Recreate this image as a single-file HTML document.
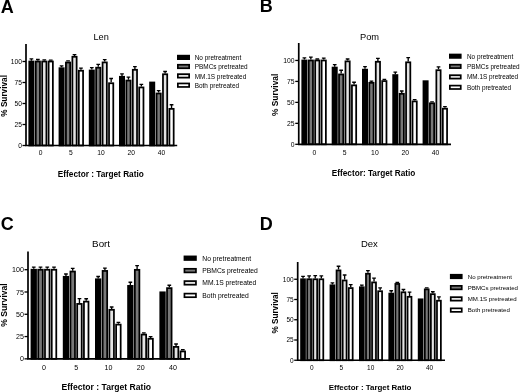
<!DOCTYPE html>
<html lang="en">
<head>
<meta charset="utf-8">
<title>Figure</title>
<style>
html,body{margin:0;padding:0;background:#fff;}
body{width:520px;height:392px;overflow:hidden;}
svg{display:block;filter:blur(0.35px);}
svg text{font-family:"Liberation Sans",Arial,Helvetica,sans-serif;fill:#000;}
svg text.b{font-weight:bold;fill:#000;}
</style>
</head>
<body>
<svg width="520" height="392" viewBox="0 0 520 392">
<rect x="0" y="0" width="520" height="392" fill="#fff"/>
<g>
<text class="b" x="0.8" y="12.7" font-size="18">A</text>
<text x="101.1" y="39.8" font-size="9.2" text-anchor="middle" fill="#222">Len</text>
<path d="M31.41 60.65V58.89M29.55 58.89H33.26" stroke="#000" stroke-width="1.35" fill="none"/>
<rect x="29.27" y="61.52" width="4.25" height="83.97" fill="#000000" stroke="#000" stroke-width="1.75"/>
<path d="M37.86 60.65V59.47M36.01 59.47H39.71" stroke="#000" stroke-width="1.35" fill="none"/>
<rect x="35.73" y="61.52" width="4.25" height="83.97" fill="#787878" stroke="#000" stroke-width="1.75"/>
<path d="M44.3 60.65V59.89M42.45 59.89H46.16" stroke="#000" stroke-width="1.35" fill="none"/>
<rect x="42.17" y="61.52" width="4.25" height="83.97" fill="#e4e4e4" stroke="#000" stroke-width="1.75"/>
<path d="M50.76 60.65V60.06M48.91 60.06H52.61" stroke="#000" stroke-width="1.35" fill="none"/>
<rect x="48.62" y="61.52" width="4.25" height="83.97" fill="#ffffff" stroke="#000" stroke-width="1.75"/>
<path d="M61.6 67.33V65.9M59.75 65.9H63.45" stroke="#000" stroke-width="1.35" fill="none"/>
<rect x="59.47" y="68.21" width="4.25" height="77.29" fill="#000000" stroke="#000" stroke-width="1.75"/>
<path d="M68.05 61.62V60.86M66.2 60.86H69.9" stroke="#000" stroke-width="1.35" fill="none"/>
<rect x="65.92" y="62.5" width="4.25" height="83" fill="#787878" stroke="#000" stroke-width="1.75"/>
<path d="M74.5 55.91V54.56M72.66 54.56H76.35" stroke="#000" stroke-width="1.35" fill="none"/>
<rect x="72.38" y="56.78" width="4.25" height="88.72" fill="#e4e4e4" stroke="#000" stroke-width="1.75"/>
<path d="M80.95 69.85V68.17M79.1 68.17H82.8" stroke="#000" stroke-width="1.35" fill="none"/>
<rect x="78.82" y="70.73" width="4.25" height="74.77" fill="#ffffff" stroke="#000" stroke-width="1.75"/>
<path d="M91.8 69.6V67.67M89.95 67.67H93.65" stroke="#000" stroke-width="1.35" fill="none"/>
<rect x="89.67" y="70.48" width="4.25" height="75.02" fill="#000000" stroke="#000" stroke-width="1.75"/>
<path d="M98.25 66.83V64.31M96.41 64.31H100.1" stroke="#000" stroke-width="1.35" fill="none"/>
<rect x="96.12" y="67.7" width="4.25" height="77.8" fill="#787878" stroke="#000" stroke-width="1.75"/>
<path d="M104.7 61.54V59.6M102.86 59.6H106.55" stroke="#000" stroke-width="1.35" fill="none"/>
<rect x="102.58" y="62.41" width="4.25" height="83.09" fill="#e4e4e4" stroke="#000" stroke-width="1.75"/>
<path d="M111.16 82.37V78.5M109.31 78.5H113" stroke="#000" stroke-width="1.35" fill="none"/>
<rect x="109.03" y="83.24" width="4.25" height="62.26" fill="#ffffff" stroke="#000" stroke-width="1.75"/>
<path d="M122 75.9V73.8M120.16 73.8H123.85" stroke="#000" stroke-width="1.35" fill="none"/>
<rect x="119.88" y="76.78" width="4.25" height="68.72" fill="#000000" stroke="#000" stroke-width="1.75"/>
<path d="M128.46 79.68V77.16M126.61 77.16H130.31" stroke="#000" stroke-width="1.35" fill="none"/>
<rect x="126.33" y="80.56" width="4.25" height="64.94" fill="#787878" stroke="#000" stroke-width="1.75"/>
<path d="M134.91 68.93V66.66M133.06 66.66H136.75" stroke="#000" stroke-width="1.35" fill="none"/>
<rect x="132.78" y="69.8" width="4.25" height="75.7" fill="#e4e4e4" stroke="#000" stroke-width="1.75"/>
<path d="M141.35 86.57V84.3M139.5 84.3H143.2" stroke="#000" stroke-width="1.35" fill="none"/>
<rect x="139.22" y="87.44" width="4.25" height="58.06" fill="#ffffff" stroke="#000" stroke-width="1.75"/>
<rect x="150.07" y="82.49" width="4.25" height="63.01" fill="#000000" stroke="#000" stroke-width="1.75"/>
<path d="M158.65 92.62V90.68M156.8 90.68H160.5" stroke="#000" stroke-width="1.35" fill="none"/>
<rect x="156.52" y="93.49" width="4.25" height="52.01" fill="#787878" stroke="#000" stroke-width="1.75"/>
<path d="M165.1 73.38V71.45M163.25 71.45H166.95" stroke="#000" stroke-width="1.35" fill="none"/>
<rect x="162.97" y="74.26" width="4.25" height="71.24" fill="#e4e4e4" stroke="#000" stroke-width="1.75"/>
<path d="M171.55 107.99V104.71M169.7 104.71H173.4" stroke="#000" stroke-width="1.35" fill="none"/>
<rect x="169.42" y="108.86" width="4.25" height="36.64" fill="#ffffff" stroke="#000" stroke-width="1.75"/>
<path d="M26 44V145.5H177.2" stroke="#000" stroke-width="1.7" fill="none"/>
<path d="M22.5 145.5H26" stroke="#000" stroke-width="1.3"/>
<text x="22" y="147.91" font-size="6.7" text-anchor="end" fill="#222">0</text>
<path d="M22.5 124.5H26" stroke="#000" stroke-width="1.3"/>
<text x="22" y="126.91" font-size="6.7" text-anchor="end" fill="#222">25</text>
<path d="M22.5 103.5H26" stroke="#000" stroke-width="1.3"/>
<text x="22" y="105.91" font-size="6.7" text-anchor="end" fill="#222">50</text>
<path d="M22.5 82.5H26" stroke="#000" stroke-width="1.3"/>
<text x="22" y="84.91" font-size="6.7" text-anchor="end" fill="#222">75</text>
<path d="M22.5 61.5H26" stroke="#000" stroke-width="1.3"/>
<text x="22" y="63.91" font-size="6.7" text-anchor="end" fill="#222">100</text>
<text x="40.7" y="155.3" font-size="6.7" text-anchor="middle" fill="#222">0</text>
<text x="70.9" y="155.3" font-size="6.7" text-anchor="middle" fill="#222">5</text>
<text x="101.1" y="155.3" font-size="6.7" text-anchor="middle" fill="#222">10</text>
<text x="131.3" y="155.3" font-size="6.7" text-anchor="middle" fill="#222">20</text>
<text x="161.5" y="155.3" font-size="6.7" text-anchor="middle" fill="#222">40</text>
<text class="b" x="100.8" y="176.7" font-size="8.24" text-anchor="middle">Effector : Target Ratio</text>
<text class="b" transform="translate(6.6 95.9) rotate(-90)" font-size="8.24" text-anchor="middle">% Survival</text>
<rect x="177.85" y="55.65" width="11.3" height="3.5" fill="#000000" stroke="#000" stroke-width="1.7"/>
<text x="194.7" y="59.82" font-size="6.45" fill="#2a2a2a">No pretreatment</text>
<rect x="177.85" y="64.75" width="11.3" height="3.5" fill="#787878" stroke="#000" stroke-width="1.7"/>
<text x="194.7" y="69.22" font-size="6.45" fill="#2a2a2a">PBMCs pretreated</text>
<rect x="177.85" y="74.15" width="11.3" height="3.5" fill="#e4e4e4" stroke="#000" stroke-width="1.7"/>
<text x="194.7" y="78.62" font-size="6.45" fill="#2a2a2a">MM.1S pretreated</text>
<rect x="177.85" y="83.45" width="11.3" height="3.5" fill="#ffffff" stroke="#000" stroke-width="1.7"/>
<text x="194.7" y="88.12" font-size="6.45" fill="#2a2a2a">Both pretreated</text>
</g>
<g>
<text class="b" x="259.7" y="12.4" font-size="18">B</text>
<text x="369.5" y="39.5" font-size="9.3" text-anchor="middle" fill="#222">Pom</text>
<path d="M304.4 59.6V57.92M302.55 57.92H306.25" stroke="#000" stroke-width="1.35" fill="none"/>
<rect x="302.27" y="60.48" width="4.25" height="83.83" fill="#000000" stroke="#000" stroke-width="1.75"/>
<path d="M310.85 59.6V57.17M309 57.17H312.7" stroke="#000" stroke-width="1.35" fill="none"/>
<rect x="308.72" y="60.48" width="4.25" height="83.83" fill="#787878" stroke="#000" stroke-width="1.75"/>
<path d="M317.3 59.6V59.01M315.45 59.01H319.15" stroke="#000" stroke-width="1.35" fill="none"/>
<rect x="315.17" y="60.48" width="4.25" height="83.83" fill="#e4e4e4" stroke="#000" stroke-width="1.75"/>
<path d="M323.75 59.6V58.09M321.9 58.09H325.61" stroke="#000" stroke-width="1.35" fill="none"/>
<rect x="321.62" y="60.48" width="4.25" height="83.83" fill="#ffffff" stroke="#000" stroke-width="1.75"/>
<path d="M334.7 66.69V64.68M332.85 64.68H336.56" stroke="#000" stroke-width="1.35" fill="none"/>
<rect x="332.57" y="67.57" width="4.25" height="76.73" fill="#000000" stroke="#000" stroke-width="1.75"/>
<path d="M341.15 73.57V70.21M339.3 70.21H343" stroke="#000" stroke-width="1.35" fill="none"/>
<rect x="339.02" y="74.44" width="4.25" height="69.86" fill="#787878" stroke="#000" stroke-width="1.75"/>
<path d="M347.6 60.49V58.98M345.75 58.98H349.45" stroke="#000" stroke-width="1.35" fill="none"/>
<rect x="345.47" y="61.36" width="4.25" height="82.94" fill="#e4e4e4" stroke="#000" stroke-width="1.75"/>
<path d="M354.06 84.47V82.29M352.2 82.29H355.91" stroke="#000" stroke-width="1.35" fill="none"/>
<rect x="351.93" y="85.34" width="4.25" height="58.96" fill="#ffffff" stroke="#000" stroke-width="1.75"/>
<path d="M365 68.79V66.69M363.15 66.69H366.86" stroke="#000" stroke-width="1.35" fill="none"/>
<rect x="362.88" y="69.66" width="4.25" height="74.64" fill="#000000" stroke="#000" stroke-width="1.75"/>
<path d="M371.45 81.95V81.11M369.6 81.11H373.31" stroke="#000" stroke-width="1.35" fill="none"/>
<rect x="369.32" y="82.83" width="4.25" height="61.47" fill="#787878" stroke="#000" stroke-width="1.75"/>
<path d="M377.9 60.9V58.39M376.05 58.39H379.75" stroke="#000" stroke-width="1.35" fill="none"/>
<rect x="375.77" y="61.78" width="4.25" height="82.52" fill="#e4e4e4" stroke="#000" stroke-width="1.75"/>
<path d="M384.36 80.19V79.35M382.5 79.35H386.21" stroke="#000" stroke-width="1.35" fill="none"/>
<rect x="382.23" y="81.07" width="4.25" height="63.23" fill="#ffffff" stroke="#000" stroke-width="1.75"/>
<path d="M395.3 74.19V72.1M393.45 72.1H397.15" stroke="#000" stroke-width="1.35" fill="none"/>
<rect x="393.17" y="75.07" width="4.25" height="69.23" fill="#000000" stroke="#000" stroke-width="1.75"/>
<path d="M401.75 92.89V90.96M399.9 90.96H403.6" stroke="#000" stroke-width="1.35" fill="none"/>
<rect x="399.62" y="93.77" width="4.25" height="50.53" fill="#787878" stroke="#000" stroke-width="1.75"/>
<path d="M408.2 61.45V57.59M406.35 57.59H410.05" stroke="#000" stroke-width="1.35" fill="none"/>
<rect x="406.07" y="62.32" width="4.25" height="81.98" fill="#e4e4e4" stroke="#000" stroke-width="1.75"/>
<path d="M414.65 100.52V99.68M412.8 99.68H416.5" stroke="#000" stroke-width="1.35" fill="none"/>
<rect x="412.52" y="101.4" width="4.25" height="42.9" fill="#ffffff" stroke="#000" stroke-width="1.75"/>
<rect x="423.47" y="81.19" width="4.25" height="63.11" fill="#000000" stroke="#000" stroke-width="1.75"/>
<path d="M432.05 102.45V101.86M430.2 101.86H433.9" stroke="#000" stroke-width="1.35" fill="none"/>
<rect x="429.92" y="103.32" width="4.25" height="40.98" fill="#787878" stroke="#000" stroke-width="1.75"/>
<path d="M438.5 69.33V66.81M436.65 66.81H440.35" stroke="#000" stroke-width="1.35" fill="none"/>
<rect x="436.37" y="70.2" width="4.25" height="74.1" fill="#e4e4e4" stroke="#000" stroke-width="1.75"/>
<path d="M444.95 107.82V106.64M443.1 106.64H446.81" stroke="#000" stroke-width="1.35" fill="none"/>
<rect x="442.82" y="108.69" width="4.25" height="35.61" fill="#ffffff" stroke="#000" stroke-width="1.75"/>
<path d="M298.75 43.1V144.3H451" stroke="#000" stroke-width="1.7" fill="none"/>
<path d="M295.25 144.3H298.75" stroke="#000" stroke-width="1.3"/>
<text x="294.6" y="146.75" font-size="6.8" text-anchor="end" fill="#222">0</text>
<path d="M295.25 123.34H298.75" stroke="#000" stroke-width="1.3"/>
<text x="294.6" y="125.79" font-size="6.8" text-anchor="end" fill="#222">25</text>
<path d="M295.25 102.38H298.75" stroke="#000" stroke-width="1.3"/>
<text x="294.6" y="104.82" font-size="6.8" text-anchor="end" fill="#222">50</text>
<path d="M295.25 81.41H298.75" stroke="#000" stroke-width="1.3"/>
<text x="294.6" y="83.86" font-size="6.8" text-anchor="end" fill="#222">75</text>
<path d="M295.25 60.45H298.75" stroke="#000" stroke-width="1.3"/>
<text x="294.6" y="62.9" font-size="6.8" text-anchor="end" fill="#222">100</text>
<text x="314.3" y="154.9" font-size="6.8" text-anchor="middle" fill="#222">0</text>
<text x="344.6" y="154.9" font-size="6.8" text-anchor="middle" fill="#222">5</text>
<text x="374.9" y="154.9" font-size="6.8" text-anchor="middle" fill="#222">10</text>
<text x="405.2" y="154.9" font-size="6.8" text-anchor="middle" fill="#222">20</text>
<text x="435.5" y="154.9" font-size="6.8" text-anchor="middle" fill="#222">40</text>
<text class="b" x="373.6" y="176.1" font-size="8.24" text-anchor="middle">Effector: Target Ratio</text>
<text class="b" transform="translate(278.1 94.9) rotate(-90)" font-size="8.4" text-anchor="middle">% Survival</text>
<rect x="449.85" y="54.5" width="10.9" height="3.4" fill="#000000" stroke="#000" stroke-width="1.7"/>
<text x="467" y="58.5" font-size="6.4" fill="#2a2a2a">No pretreatment</text>
<rect x="449.85" y="64.7" width="10.9" height="3.4" fill="#787878" stroke="#000" stroke-width="1.7"/>
<text x="467" y="68.7" font-size="6.4" fill="#2a2a2a">PBMCs pretreated</text>
<rect x="449.85" y="75.2" width="10.9" height="3.4" fill="#e4e4e4" stroke="#000" stroke-width="1.7"/>
<text x="467" y="79.2" font-size="6.4" fill="#2a2a2a">MM.1S pretreated</text>
<rect x="449.85" y="85.6" width="10.9" height="3.4" fill="#ffffff" stroke="#000" stroke-width="1.7"/>
<text x="467" y="89.6" font-size="6.4" fill="#2a2a2a">Both pretreated</text>
</g>
<g>
<text class="b" x="0.7" y="229.9" font-size="18">C</text>
<text x="101.1" y="246.9" font-size="9.8" text-anchor="middle" fill="#222">Bort</text>
<path d="M33.76 268.85V267.07M31.91 267.07H35.61" stroke="#000" stroke-width="1.35" fill="none"/>
<rect x="31.48" y="269.73" width="4.55" height="89.12" fill="#000000" stroke="#000" stroke-width="1.75"/>
<path d="M40.51 268.85V267.07M38.66 267.07H42.36" stroke="#000" stroke-width="1.35" fill="none"/>
<rect x="38.23" y="269.73" width="4.55" height="89.12" fill="#787878" stroke="#000" stroke-width="1.75"/>
<path d="M47.26 268.85V267.07M45.41 267.07H49.11" stroke="#000" stroke-width="1.35" fill="none"/>
<rect x="44.98" y="269.73" width="4.55" height="89.12" fill="#e4e4e4" stroke="#000" stroke-width="1.75"/>
<path d="M54.01 268.85V267.07M52.16 267.07H55.86" stroke="#000" stroke-width="1.35" fill="none"/>
<rect x="51.73" y="269.73" width="4.55" height="89.12" fill="#ffffff" stroke="#000" stroke-width="1.75"/>
<path d="M65.96 275.93V273.97M64.11 273.97H67.81" stroke="#000" stroke-width="1.35" fill="none"/>
<rect x="63.68" y="276.81" width="4.55" height="82.04" fill="#000000" stroke="#000" stroke-width="1.75"/>
<path d="M72.71 270.67V268.35M70.86 268.35H74.56" stroke="#000" stroke-width="1.35" fill="none"/>
<rect x="70.43" y="271.55" width="4.55" height="87.3" fill="#787878" stroke="#000" stroke-width="1.75"/>
<path d="M79.46 303.03V298.58M77.61 298.58H81.31" stroke="#000" stroke-width="1.35" fill="none"/>
<rect x="77.18" y="303.91" width="4.55" height="54.94" fill="#e4e4e4" stroke="#000" stroke-width="1.75"/>
<path d="M86.21 300.72V298.75M84.36 298.75H88.06" stroke="#000" stroke-width="1.35" fill="none"/>
<rect x="83.93" y="301.59" width="4.55" height="57.26" fill="#ffffff" stroke="#000" stroke-width="1.75"/>
<path d="M98.16 278.43V276.47M96.31 276.47H100" stroke="#000" stroke-width="1.35" fill="none"/>
<rect x="95.88" y="279.3" width="4.55" height="79.55" fill="#000000" stroke="#000" stroke-width="1.75"/>
<path d="M104.91 270.05V268.09M103.06 268.09H106.75" stroke="#000" stroke-width="1.35" fill="none"/>
<rect x="102.62" y="270.92" width="4.55" height="87.93" fill="#787878" stroke="#000" stroke-width="1.75"/>
<path d="M111.66 308.92V306.96M109.81 306.96H113.5" stroke="#000" stroke-width="1.35" fill="none"/>
<rect x="109.38" y="309.79" width="4.55" height="49.06" fill="#e4e4e4" stroke="#000" stroke-width="1.75"/>
<path d="M118.41 323.72V322.38M116.56 322.38H120.25" stroke="#000" stroke-width="1.35" fill="none"/>
<rect x="116.12" y="324.59" width="4.55" height="34.26" fill="#ffffff" stroke="#000" stroke-width="1.75"/>
<path d="M130.36 285.03V282.26M128.51 282.26H132.21" stroke="#000" stroke-width="1.35" fill="none"/>
<rect x="128.08" y="285.9" width="4.55" height="72.95" fill="#000000" stroke="#000" stroke-width="1.75"/>
<path d="M137.11 268.98V265.59M135.26 265.59H138.96" stroke="#000" stroke-width="1.35" fill="none"/>
<rect x="134.83" y="269.85" width="4.55" height="89" fill="#787878" stroke="#000" stroke-width="1.75"/>
<path d="M143.86 333.7V332.81M142.01 332.81H145.71" stroke="#000" stroke-width="1.35" fill="none"/>
<rect x="141.58" y="334.58" width="4.55" height="24.27" fill="#e4e4e4" stroke="#000" stroke-width="1.75"/>
<path d="M150.61 337.89V336.55M148.76 336.55H152.46" stroke="#000" stroke-width="1.35" fill="none"/>
<rect x="148.33" y="338.77" width="4.55" height="20.08" fill="#ffffff" stroke="#000" stroke-width="1.75"/>
<rect x="160.28" y="292.32" width="4.55" height="66.53" fill="#000000" stroke="#000" stroke-width="1.75"/>
<path d="M169.31 287.25V285.29M167.46 285.29H171.16" stroke="#000" stroke-width="1.35" fill="none"/>
<rect x="167.03" y="288.13" width="4.55" height="70.72" fill="#787878" stroke="#000" stroke-width="1.75"/>
<path d="M176.06 346V344.04M174.21 344.04H177.91" stroke="#000" stroke-width="1.35" fill="none"/>
<rect x="173.78" y="346.88" width="4.55" height="11.97" fill="#e4e4e4" stroke="#000" stroke-width="1.75"/>
<path d="M182.81 350.55V349.75M180.96 349.75H184.66" stroke="#000" stroke-width="1.35" fill="none"/>
<rect x="180.53" y="351.43" width="4.55" height="7.42" fill="#ffffff" stroke="#000" stroke-width="1.75"/>
<path d="M28 251.4V358.85H190" stroke="#000" stroke-width="1.7" fill="none"/>
<path d="M24.5 358.85H28" stroke="#000" stroke-width="1.3"/>
<text x="23.9" y="361.41" font-size="7.1" text-anchor="end" fill="#222">0</text>
<path d="M24.5 336.56H28" stroke="#000" stroke-width="1.3"/>
<text x="23.9" y="339.12" font-size="7.1" text-anchor="end" fill="#222">25</text>
<path d="M24.5 314.28H28" stroke="#000" stroke-width="1.3"/>
<text x="23.9" y="316.83" font-size="7.1" text-anchor="end" fill="#222">50</text>
<path d="M24.5 291.99H28" stroke="#000" stroke-width="1.3"/>
<text x="23.9" y="294.54" font-size="7.1" text-anchor="end" fill="#222">75</text>
<path d="M24.5 269.7H28" stroke="#000" stroke-width="1.3"/>
<text x="23.9" y="272.26" font-size="7.1" text-anchor="end" fill="#222">100</text>
<text x="44.1" y="369.7" font-size="7.1" text-anchor="middle" fill="#222">0</text>
<text x="76.3" y="369.7" font-size="7.1" text-anchor="middle" fill="#222">5</text>
<text x="108.5" y="369.7" font-size="7.1" text-anchor="middle" fill="#222">10</text>
<text x="140.7" y="369.7" font-size="7.1" text-anchor="middle" fill="#222">20</text>
<text x="172.9" y="369.7" font-size="7.1" text-anchor="middle" fill="#222">40</text>
<text class="b" x="106.3" y="390" font-size="8.6" text-anchor="middle">Effector : Target Ratio</text>
<text class="b" transform="translate(6.8 305) rotate(-90)" font-size="8.6" text-anchor="middle">% Survival</text>
<rect x="184.45" y="256.4" width="11.5" height="3.6" fill="#000000" stroke="#000" stroke-width="1.7"/>
<text x="202.3" y="260.63" font-size="6.75" fill="#2a2a2a">No pretreatment</text>
<rect x="184.45" y="268.8" width="11.5" height="3.6" fill="#787878" stroke="#000" stroke-width="1.7"/>
<text x="202.3" y="273.03" font-size="6.75" fill="#2a2a2a">PBMCs pretreated</text>
<rect x="184.45" y="281.1" width="11.5" height="3.6" fill="#e4e4e4" stroke="#000" stroke-width="1.7"/>
<text x="202.3" y="285.33" font-size="6.75" fill="#2a2a2a">MM.1S pretreated</text>
<rect x="184.45" y="293.6" width="11.5" height="3.6" fill="#ffffff" stroke="#000" stroke-width="1.7"/>
<text x="202.3" y="297.83" font-size="6.75" fill="#2a2a2a">Both pretreated</text>
</g>
<g>
<text class="b" x="259.7" y="229.9" font-size="18">D</text>
<text x="369.4" y="246.9" font-size="9.5" text-anchor="middle" fill="#222">Dex</text>
<path d="M303.03 278.4V276.38M301.18 276.38H304.88" stroke="#000" stroke-width="1.35" fill="none"/>
<rect x="301.07" y="279.27" width="3.9" height="80.98" fill="#000000" stroke="#000" stroke-width="1.75"/>
<path d="M309.13 278.4V275.89M307.28 275.89H310.98" stroke="#000" stroke-width="1.35" fill="none"/>
<rect x="307.18" y="279.27" width="3.9" height="80.98" fill="#787878" stroke="#000" stroke-width="1.75"/>
<path d="M315.23 278.4V275.65M313.38 275.65H317.08" stroke="#000" stroke-width="1.35" fill="none"/>
<rect x="313.27" y="279.27" width="3.9" height="80.98" fill="#e4e4e4" stroke="#000" stroke-width="1.75"/>
<path d="M321.33 278.4V275.89M319.48 275.89H323.18" stroke="#000" stroke-width="1.35" fill="none"/>
<rect x="319.38" y="279.27" width="3.9" height="80.98" fill="#ffffff" stroke="#000" stroke-width="1.75"/>
<path d="M332.43 284.44V282.91M330.58 282.91H334.28" stroke="#000" stroke-width="1.35" fill="none"/>
<rect x="330.47" y="285.32" width="3.9" height="74.93" fill="#000000" stroke="#000" stroke-width="1.75"/>
<path d="M338.53 269.54V266.22M336.68 266.22H340.38" stroke="#000" stroke-width="1.35" fill="none"/>
<rect x="336.57" y="270.41" width="3.9" height="89.84" fill="#787878" stroke="#000" stroke-width="1.75"/>
<path d="M344.63 279.58V274.97M342.78 274.97H346.48" stroke="#000" stroke-width="1.35" fill="none"/>
<rect x="342.67" y="280.46" width="3.9" height="79.79" fill="#e4e4e4" stroke="#000" stroke-width="1.75"/>
<path d="M350.73 287.2V284.61M348.88 284.61H352.58" stroke="#000" stroke-width="1.35" fill="none"/>
<rect x="348.77" y="288.07" width="3.9" height="72.18" fill="#ffffff" stroke="#000" stroke-width="1.75"/>
<path d="M361.83 286.39V285.17M359.98 285.17H363.68" stroke="#000" stroke-width="1.35" fill="none"/>
<rect x="359.88" y="287.26" width="3.9" height="72.99" fill="#000000" stroke="#000" stroke-width="1.75"/>
<path d="M367.93 272.86V270.67M366.08 270.67H369.78" stroke="#000" stroke-width="1.35" fill="none"/>
<rect x="365.98" y="273.74" width="3.9" height="86.51" fill="#787878" stroke="#000" stroke-width="1.75"/>
<path d="M374.03 281.53V278.13M372.18 278.13H375.88" stroke="#000" stroke-width="1.35" fill="none"/>
<rect x="372.07" y="282.4" width="3.9" height="77.85" fill="#e4e4e4" stroke="#000" stroke-width="1.75"/>
<path d="M380.13 290.36V287.93M378.28 287.93H381.98" stroke="#000" stroke-width="1.35" fill="none"/>
<rect x="378.18" y="291.23" width="3.9" height="69.02" fill="#ffffff" stroke="#000" stroke-width="1.75"/>
<path d="M391.23 292.71V290.76M389.38 290.76H393.08" stroke="#000" stroke-width="1.35" fill="none"/>
<rect x="389.27" y="293.58" width="3.9" height="66.67" fill="#000000" stroke="#000" stroke-width="1.75"/>
<path d="M397.33 283.07V282.5M395.48 282.5H399.18" stroke="#000" stroke-width="1.35" fill="none"/>
<rect x="395.38" y="283.94" width="3.9" height="76.31" fill="#787878" stroke="#000" stroke-width="1.75"/>
<path d="M403.43 291.41V289.47M401.58 289.47H405.28" stroke="#000" stroke-width="1.35" fill="none"/>
<rect x="401.47" y="292.28" width="3.9" height="67.97" fill="#e4e4e4" stroke="#000" stroke-width="1.75"/>
<path d="M409.53 295.95V292.14M407.68 292.14H411.38" stroke="#000" stroke-width="1.35" fill="none"/>
<rect x="407.57" y="296.82" width="3.9" height="63.43" fill="#ffffff" stroke="#000" stroke-width="1.75"/>
<rect x="418.67" y="299.33" width="3.9" height="60.92" fill="#000000" stroke="#000" stroke-width="1.75"/>
<path d="M426.73 288.49V287.93M424.88 287.93H428.58" stroke="#000" stroke-width="1.35" fill="none"/>
<rect x="424.77" y="289.37" width="3.9" height="70.88" fill="#787878" stroke="#000" stroke-width="1.75"/>
<path d="M432.83 293.27V291.73M430.98 291.73H434.68" stroke="#000" stroke-width="1.35" fill="none"/>
<rect x="430.87" y="294.15" width="3.9" height="66.1" fill="#e4e4e4" stroke="#000" stroke-width="1.75"/>
<path d="M438.93 299.83V296.92M437.08 296.92H440.78" stroke="#000" stroke-width="1.35" fill="none"/>
<rect x="436.97" y="300.71" width="3.9" height="59.54" fill="#ffffff" stroke="#000" stroke-width="1.75"/>
<path d="M297.7 262V360.25H445" stroke="#000" stroke-width="1.7" fill="none"/>
<path d="M294.2 360.25H297.7" stroke="#000" stroke-width="1.3"/>
<text x="293.7" y="362.59" font-size="6.5" text-anchor="end" fill="#222">0</text>
<path d="M294.2 340H297.7" stroke="#000" stroke-width="1.3"/>
<text x="293.7" y="342.34" font-size="6.5" text-anchor="end" fill="#222">25</text>
<path d="M294.2 319.75H297.7" stroke="#000" stroke-width="1.3"/>
<text x="293.7" y="322.09" font-size="6.5" text-anchor="end" fill="#222">50</text>
<path d="M294.2 299.5H297.7" stroke="#000" stroke-width="1.3"/>
<text x="293.7" y="301.84" font-size="6.5" text-anchor="end" fill="#222">75</text>
<path d="M294.2 279.25H297.7" stroke="#000" stroke-width="1.3"/>
<text x="293.7" y="281.59" font-size="6.5" text-anchor="end" fill="#222">100</text>
<text x="311.9" y="369.9" font-size="6.5" text-anchor="middle" fill="#222">0</text>
<text x="341.3" y="369.9" font-size="6.5" text-anchor="middle" fill="#222">5</text>
<text x="370.7" y="369.9" font-size="6.5" text-anchor="middle" fill="#222">10</text>
<text x="400.1" y="369.9" font-size="6.5" text-anchor="middle" fill="#222">20</text>
<text x="429.5" y="369.9" font-size="6.5" text-anchor="middle" fill="#222">40</text>
<text class="b" x="370.1" y="390.1" font-size="7.95" text-anchor="middle">Effector : Target Ratio</text>
<text class="b" transform="translate(278.2 312.9) rotate(-90)" font-size="8.2" text-anchor="middle">% Survival</text>
<rect x="450.75" y="274.75" width="11" height="3.5" fill="#000000" stroke="#000" stroke-width="1.7"/>
<text x="467.8" y="278.7" font-size="6.1" fill="#2a2a2a">No pretreatment</text>
<rect x="450.75" y="285.85" width="11" height="3.5" fill="#787878" stroke="#000" stroke-width="1.7"/>
<text x="467.8" y="289.8" font-size="6.1" fill="#2a2a2a">PBMCs pretreated</text>
<rect x="450.75" y="297.15" width="11" height="3.5" fill="#e4e4e4" stroke="#000" stroke-width="1.7"/>
<text x="467.8" y="301.1" font-size="6.1" fill="#2a2a2a">MM.1S pretreated</text>
<rect x="450.75" y="308.35" width="11" height="3.5" fill="#ffffff" stroke="#000" stroke-width="1.7"/>
<text x="467.8" y="312.3" font-size="6.1" fill="#2a2a2a">Both pretreated</text>
</g>
</svg>
</body>
</html>
